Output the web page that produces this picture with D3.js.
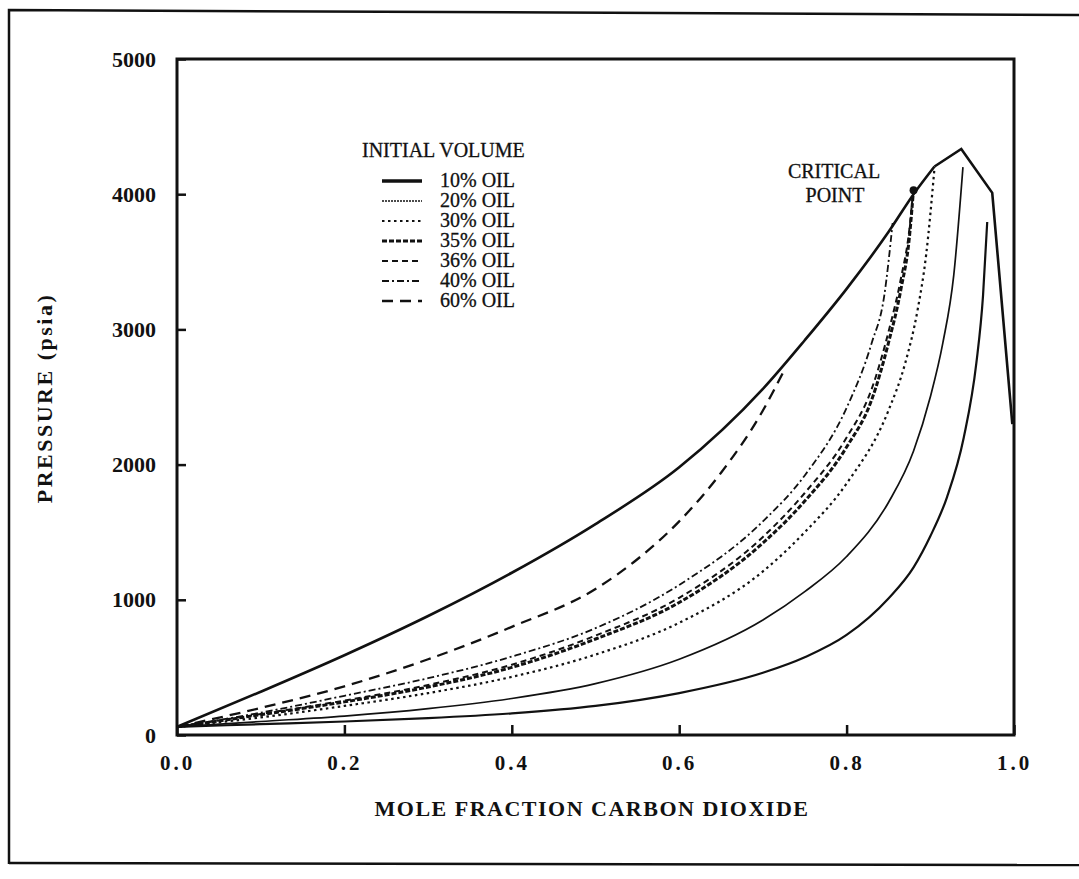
<!DOCTYPE html>
<html><head><meta charset="utf-8">
<script src="https://cdn.jsdelivr.net/npm/d3@7"></script>
<style>
body{margin:0;background:#fff;}
svg{display:block;}
text{font-family:"Liberation Serif","Times New Roman",serif;fill:#111;}
</style></head>
<body><svg id="c" width="1079" height="879"></svg>
<script>
// ---- data ----
const xTicks = [0.0, 0.2, 0.4, 0.6, 0.8, 1.0];
const xTickLabels = ["0.0", "0.2", "0.4", "0.6", "0.8", "1.0"];
const yTicks = [0, 1000, 2000, 3000, 4000, 5000];
const yTickLabels = ["0", "1000", "2000", "3000", "4000", "5000"];

// phase envelope (smooth part ends at the critical region, then straight segments)
const envX = [0, 0.1, 0.2, 0.3, 0.4, 0.5, 0.6, 0.7, 0.75, 0.8, 0.85, 0.88, 0.905, 0.937, 0.974, 0.998];
const envP = [60, 320, 590, 880, 1200, 1560, 1980, 2560, 2920, 3300, 3720, 4000, 4205, 4335, 4010, 2300];

const oil10X = [0, 0.1, 0.2, 0.3, 0.4, 0.5, 0.6, 0.7, 0.75, 0.8, 0.85, 0.88, 0.9, 0.92, 0.94, 0.955, 0.963, 0.968];
const oil10P = [60, 80, 100, 125, 160, 215, 310, 460, 575, 740, 1010, 1240, 1470, 1760, 2200, 2750, 3250, 3794];

const oil20X = [0, 0.1, 0.2, 0.3, 0.4, 0.5, 0.6, 0.7, 0.75, 0.8, 0.85, 0.88, 0.9, 0.915, 0.928, 0.939];
const oil20P = [60, 100, 140, 195, 270, 380, 560, 850, 1060, 1320, 1720, 2100, 2500, 2900, 3400, 4200];

const oil30X = [0, 0.1, 0.2, 0.3, 0.4, 0.5, 0.6, 0.7, 0.75, 0.8, 0.85, 0.87, 0.885, 0.895, 0.905];
const oil30P = [60, 130, 215, 310, 430, 595, 830, 1210, 1500, 1860, 2400, 2750, 3150, 3550, 4194];

const oil35X = [0, 0.1, 0.2, 0.3, 0.4, 0.5, 0.6, 0.7, 0.75, 0.8, 0.83, 0.85, 0.865, 0.875, 0.88];
const oil35P = [60, 150, 245, 355, 500, 710, 980, 1420, 1730, 2130, 2480, 2900, 3300, 3680, 4040];

const oil36X = [0, 0.1, 0.2, 0.3, 0.4, 0.5, 0.6, 0.7, 0.75, 0.8, 0.83, 0.85, 0.865, 0.875, 0.88];
const oil36P = [60, 155, 255, 370, 520, 735, 1015, 1465, 1790, 2200, 2560, 2980, 3380, 3740, 4060];

const oil40X = [0, 0.1, 0.2, 0.3, 0.4, 0.5, 0.6, 0.7, 0.75, 0.8, 0.83, 0.845, 0.855];
const oil40P = [60, 165, 290, 420, 580, 790, 1110, 1580, 1920, 2420, 2900, 3250, 3787];

const oil60X = [0, 0.1, 0.2, 0.3, 0.4, 0.5, 0.55, 0.6, 0.65, 0.7, 0.724];
const oil60P = [60, 200, 360, 560, 800, 1080, 1300, 1580, 1940, 2400, 2680];

const legendLabels = ["10% OIL", "20% OIL", "30% OIL", "35% OIL", "36% OIL", "40% OIL", "60% OIL"];
const criticalX = [0.88];
const criticalP = [4030];

// ---- layout ----
const svg = d3.select("#c");
const L = 177, R = 1014, T = 59, B = 735;
const x = d3.scaleLinear().domain([0, 1]).range([L, R]);
const y = d3.scaleLinear().domain([0, 5000]).range([B, T]);

// outer frame
svg.append("path").attr("d", "M9,864 L9,10 L1079,15").attr("fill", "none").attr("stroke", "#111").attr("stroke-width", 2.5);
svg.append("line").attr("x1", 9).attr("x2", 1079).attr("y1", 863).attr("y2", 865).attr("stroke", "#111").attr("stroke-width", 2.5);

// plot frame
svg.append("rect").attr("x", L).attr("y", T).attr("width", R - L).attr("height", B - T)
  .attr("fill", "none").attr("stroke", "#111").attr("stroke-width", 3);

// axes
const xAxis = d3.axisBottom(x).tickValues(xTicks).tickSizeInner(-10).tickSizeOuter(0)
  .tickFormat((d, i) => xTickLabels[i]).tickPadding(20);
const gx = svg.append("g").attr("transform", `translate(0,${B})`).call(xAxis);
gx.select(".domain").remove();
gx.selectAll(".tick line").attr("stroke", "#111").attr("stroke-width", 2.5);
gx.selectAll(".tick text").attr("font-size", 21).attr("font-weight", "bold")
  .attr("letter-spacing", "3px").attr("font-family", "Liberation Serif").attr("fill", "#111");

const yAxis = d3.axisLeft(y).tickValues(yTicks).tickSizeInner(-9).tickSizeOuter(0)
  .tickFormat((d, i) => yTickLabels[i]).tickPadding(21);
const gy = svg.append("g").attr("transform", `translate(${L},0)`).call(yAxis);
gy.select(".domain").remove();
gy.selectAll(".tick line").attr("stroke", "#111").attr("stroke-width", 2.5);
gy.selectAll(".tick text").attr("font-size", 22).attr("font-weight", "bold")
  .attr("font-family", "Liberation Serif").attr("fill", "#111");

// axis titles
svg.append("text").attr("x", 592).attr("y", 816).attr("text-anchor", "middle")
  .attr("font-size", 22).attr("font-weight", "bold").attr("letter-spacing", "1.5px")
  .text("MOLE FRACTION CARBON DIOXIDE");
svg.append("text").attr("transform", "translate(52,398) rotate(-90)").attr("text-anchor", "middle")
  .attr("font-size", 22).attr("font-weight", "bold").attr("letter-spacing", "2.5px")
  .text("PRESSURE  (psia)");

// curves
const smooth = d3.line().x(d => x(d[0])).y(d => y(d[1])).curve(d3.curveMonotoneX);
const straight = d3.line().x(d => x(d[0])).y(d => y(d[1]));
const zip = (a, b) => a.map((v, i) => [v, b[i]]);

// envelope: smooth up to the critical region, straight segments round the peak
const env = zip(envX, envP);
const kink = envX.indexOf(0.905);
svg.append("path").datum(env.slice(0, kink + 1)).attr("d", smooth)
  .attr("fill", "none").attr("stroke", "#111").attr("stroke-width", 2.6);
svg.append("path").datum(env.slice(kink)).attr("d", straight)
  .attr("fill", "none").attr("stroke", "#111").attr("stroke-width", 2.6).attr("stroke-linejoin", "miter");

const series = [
  {xs: oil10X, ps: oil10P, w: 2.2, dash: null},
  {xs: oil20X, ps: oil20P, w: 1.7, dash: null},
  {xs: oil30X, ps: oil30P, w: 2.2, dash: "2.5,3.5"},
  {xs: oil35X, ps: oil35P, w: 3, dash: "5,2"},
  {xs: oil36X, ps: oil36P, w: 2, dash: "6,4"},
  {xs: oil40X, ps: oil40P, w: 1.8, dash: "7,3,2,3"},
  {xs: oil60X, ps: oil60P, w: 2.3, dash: "11,7"}
];
series.forEach(s => {
  svg.append("path").datum(zip(s.xs, s.ps)).attr("d", smooth)
    .attr("fill", "none").attr("stroke", "#111").attr("stroke-width", s.w)
    .attr("stroke-dasharray", s.dash).attr("stroke-linejoin", "round");
});
svg.selectAll(".crit").data(zip(criticalX, criticalP)).enter().append("circle")
  .attr("cx", d => x(d[0])).attr("cy", d => y(d[1])).attr("r", 4).attr("fill", "#111");

// critical point label
svg.append("text").attr("x", 834).attr("y", 178).attr("text-anchor", "middle").attr("font-size", 20)
  .attr("stroke", "#111").attr("stroke-width", 0.3).text("CRITICAL");
svg.append("text").attr("x", 835).attr("y", 202).attr("text-anchor", "middle").attr("font-size", 20)
  .attr("stroke", "#111").attr("stroke-width", 0.3).text("POINT");

// legend
svg.append("text").attr("x", 362).attr("y", 157).attr("font-size", 20)
  .attr("stroke", "#111").attr("stroke-width", 0.3).text("INITIAL VOLUME");
const legendDashes = [null, "2,1", "2.5,3.5", "5,2", "6,4", "7,3,2,3", "11,7"];
const legendWidths = [3.5, 1.5, 2.2, 3, 2, 1.8, 2.3];
legendLabels.forEach((lab, i) => {
  const yy = 187 + i * 20;
  svg.append("line").attr("x1", 382).attr("x2", 422).attr("y1", yy - 6).attr("y2", yy - 6)
    .attr("stroke", "#111").attr("stroke-width", legendWidths[i]).attr("stroke-dasharray", legendDashes[i]);
  svg.append("text").attr("x", 440).attr("y", yy).attr("font-size", 20)
    .attr("stroke", "#111").attr("stroke-width", 0.3).text(lab);
});
</script></body></html>
